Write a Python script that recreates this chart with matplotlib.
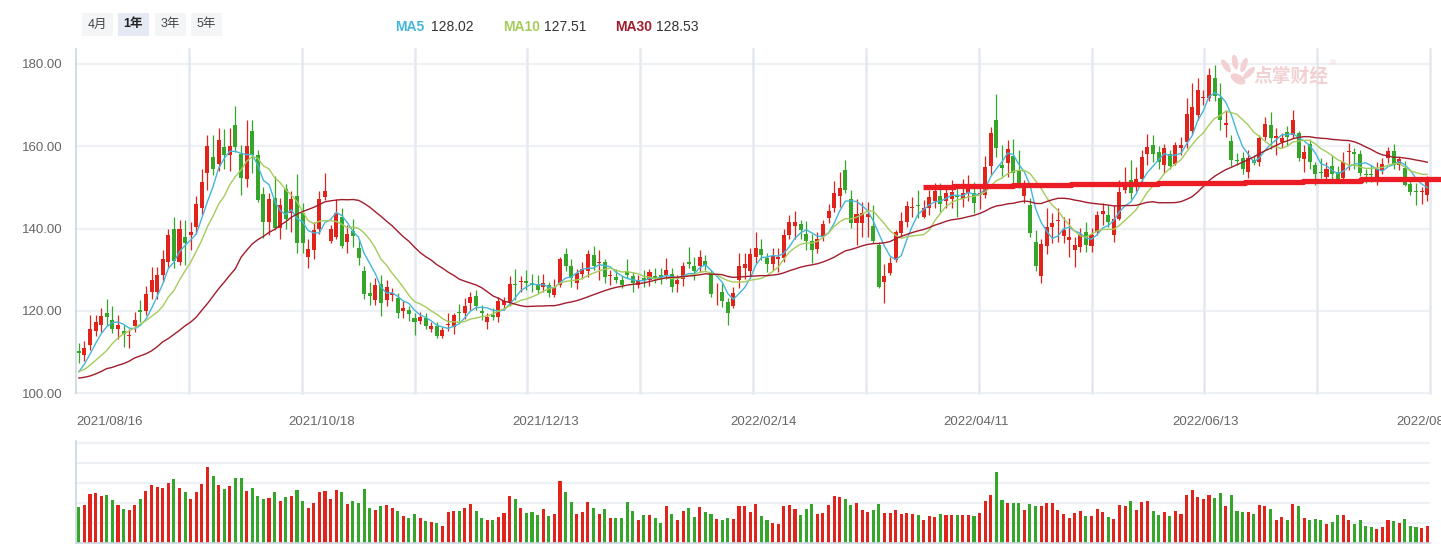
import matplotlib.pyplot as plt
from matplotlib.patches import Rectangle, Ellipse
import numpy as np
import pandas as pd

plt.rcParams['font.family'] = ['Liberation Sans', 'Noto Sans CJK SC', 'DejaVu Sans']

# daily candles, 2021/08/16 .. 2022/08/15
opens = [
    110.3, 109.2, 111.7, 115.1, 116.7, 119.6, 117.9, 115.6, 115.1, 114.0,
    116.4, 120.3, 120.0, 124.6, 124.5, 128.7, 131.9, 139.8, 131.9, 138.0,
    138.5, 140.4, 144.9, 153.5, 157.4, 155.6, 159.8, 157.8, 165.1, 158.2,
    152.0, 163.6, 157.8, 148.3, 141.6, 147.5, 140.2, 149.6, 143.9, 147.9,
    143.9, 133.1, 134.9, 139.8, 147.7, 136.9, 138.0, 142.8, 136.8, 139.4,
    135.2, 129.7, 124.3, 122.7, 126.5, 122.7, 123.9, 123.1, 119.9, 120.2,
    118.2, 117.6, 118.4, 115.7, 116.4, 113.8, 116.7, 116.2, 119.7, 119.4,
    122.0, 123.6, 120.0, 117.2, 119.0, 118.5, 121.4, 121.9, 126.6, 127.1,
    127.3, 126.7, 126.6, 125.7, 126.3, 123.9, 126.3, 133.8, 130.9, 126.7,
    129.0, 129.8, 133.6, 131.6, 132.0, 128.4, 128.2, 127.5, 129.7, 128.5,
    126.3, 128.1, 127.5, 128.5, 128.7, 128.7, 128.9, 126.5, 127.7, 132.0,
    130.8, 130.8, 132.2, 129.3, 124.0, 124.5, 122.1, 121.3, 127.4, 130.4,
    129.7, 133.2, 135.0, 132.8, 131.4, 132.7, 132.8, 138.5, 140.6, 141.1,
    138.7, 137.0, 135.0, 138.2, 142.5, 144.9, 147.9, 154.2, 147.1, 141.3,
    141.3, 142.9, 140.6, 136.0, 127.1, 129.3, 132.4, 139.0, 141.7, 145.0,
    145.7, 142.9, 144.9, 146.8, 148.0, 146.6, 147.2, 148.2, 147.1, 148.6,
    148.7, 148.2, 148.2, 155.1, 166.5, 155.5, 155.9, 157.6, 154.1, 147.9,
    145.7, 136.7, 128.6, 135.9, 140.5, 141.9, 138.3, 137.2, 134.8, 135.6,
    139.1, 135.9, 139.3, 143.6, 143.3, 138.5, 142.3, 149.4, 151.8, 150.4,
    152.0, 158.1, 160.3, 158.5, 155.5, 158.1, 155.6, 159.7, 161.0, 163.6,
    167.6, 171.7, 171.7, 176.5, 171.8, 165.2, 161.3, 156.5, 157.1, 153.8,
    156.7, 156.1, 162.3, 165.2, 162.0, 161.0, 163.5, 162.8, 163.2, 156.9,
    160.5, 155.5, 153.8, 152.6, 155.1, 153.8, 152.2, 158.5, 158.5, 158.1,
    153.3, 153.3, 152.6, 154.2, 157.1, 158.9, 155.5, 154.8, 150.8, 149.1,
    148.9, 148.2]
highs = [
    112.3, 112.8, 119.1, 119.1, 120.7, 122.8, 121.2, 119.1, 116.5, 115.7,
    119.8, 122.6, 126.0, 130.7, 130.7, 134.7, 140.0, 142.8, 142.0, 142.0,
    141.5, 147.9, 154.6, 162.8, 162.7, 164.5, 164.3, 164.5, 169.7, 160.2,
    166.3, 166.3, 159.0, 150.1, 148.7, 152.8, 147.4, 150.9, 149.1, 153.3,
    146.2, 137.6, 141.6, 149.1, 153.4, 140.8, 147.3, 144.9, 141.0, 142.3,
    137.4, 130.9, 127.1, 128.0, 128.7, 127.4, 125.5, 124.3, 122.3, 121.2,
    119.6, 119.8, 119.4, 117.2, 117.2, 116.0, 119.6, 119.6, 121.7, 123.2,
    124.7, 125.1, 121.4, 119.6, 120.6, 123.5, 123.5, 128.5, 130.1, 128.5,
    129.9, 129.0, 128.7, 129.0, 127.1, 127.7, 133.2, 135.2, 132.5, 130.3,
    132.0, 134.9, 135.8, 134.9, 132.5, 129.9, 130.1, 128.5, 132.6, 129.5,
    128.7, 130.0, 130.1, 130.4, 130.5, 132.9, 130.4, 128.7, 132.0, 135.5,
    133.0, 134.8, 133.6, 130.0, 126.7, 126.7, 123.1, 125.9, 134.2, 134.2,
    135.2, 139.3, 137.4, 134.0, 135.2, 135.2, 139.8, 143.3, 144.3, 142.1,
    141.8, 138.7, 139.3, 142.1, 146.1, 151.6, 153.7, 156.7, 149.3, 147.1,
    146.4, 146.4, 145.7, 136.8, 131.5, 133.2, 139.7, 144.1, 146.6, 147.8,
    149.4, 147.0, 149.4, 151.2, 151.0, 149.8, 151.8, 150.6, 152.0, 153.0,
    151.4, 150.4, 157.6, 164.8, 172.7, 160.3, 161.5, 161.7, 159.1, 151.8,
    147.4, 139.7, 137.6, 144.9, 143.9, 144.9, 142.9, 142.5, 138.0, 140.1,
    141.7, 140.1, 144.4, 146.3, 145.7, 145.7, 151.8, 154.9, 156.7, 154.9,
    159.1, 163.0, 162.8, 160.0, 160.5, 159.1, 161.0, 162.3, 171.7, 175.3,
    176.5, 173.7, 178.9, 179.7, 175.3, 168.8, 162.8, 158.3, 158.7, 159.1,
    157.9, 162.8, 167.0, 168.4, 164.4, 163.2, 165.0, 168.8, 163.6, 160.3,
    161.5, 156.3, 157.1, 156.3, 157.9, 155.1, 158.7, 160.7, 159.5, 159.1,
    154.6, 155.5, 156.3, 157.1, 159.9, 160.5, 157.5, 156.4, 152.2, 151.0,
    150.2, 152.9]
lows = [
    107.4, 107.9, 110.4, 113.9, 114.9, 116.5, 114.7, 113.3, 111.2, 111.0,
    114.9, 117.2, 119.0, 123.0, 123.0, 127.0, 130.7, 130.4, 131.1, 131.1,
    134.7, 138.8, 143.2, 149.3, 153.0, 154.0, 154.6, 154.0, 158.6, 148.1,
    150.1, 153.4, 146.5, 137.7, 138.5, 139.6, 137.6, 140.0, 139.2, 134.0,
    134.0, 130.4, 132.6, 138.8, 146.9, 136.4, 137.6, 135.2, 134.0, 135.6,
    131.2, 122.8, 121.4, 121.4, 118.8, 121.2, 122.3, 118.2, 118.2, 117.6,
    114.2, 116.8, 115.5, 115.0, 113.4, 113.4, 115.1, 114.3, 117.6, 118.0,
    120.2, 120.2, 117.8, 115.6, 117.8, 117.4, 120.2, 121.2, 122.7, 124.7,
    125.1, 124.7, 124.3, 124.7, 123.5, 123.5, 125.7, 129.8, 125.7, 125.3,
    127.7, 128.2, 129.9, 127.5, 126.7, 126.3, 126.7, 125.5, 127.9, 124.7,
    125.5, 125.9, 126.1, 126.7, 126.6, 127.7, 124.7, 124.7, 126.1, 130.4,
    127.4, 129.5, 130.0, 123.5, 121.4, 121.0, 116.7, 120.6, 125.5, 127.7,
    128.3, 131.6, 132.4, 129.5, 130.0, 129.5, 132.0, 137.4, 137.6, 137.4,
    134.7, 131.7, 134.2, 137.1, 141.3, 144.1, 145.3, 148.6, 140.1, 136.0,
    137.9, 138.0, 136.4, 125.5, 121.9, 128.7, 132.0, 138.0, 140.5, 142.9,
    142.5, 142.5, 143.3, 144.9, 144.1, 145.1, 144.9, 142.9, 145.3, 146.8,
    143.9, 144.7, 147.4, 153.0, 157.5, 152.8, 152.6, 151.0, 149.8, 146.3,
    138.0, 129.6, 126.7, 133.8, 136.4, 136.8, 136.4, 133.2, 130.6, 134.4,
    134.4, 134.4, 138.5, 140.9, 140.5, 136.8, 142.1, 148.7, 147.1, 149.2,
    151.0, 155.5, 156.3, 154.5, 153.4, 154.6, 155.5, 157.9, 159.5, 162.8,
    166.4, 170.0, 170.9, 170.9, 164.0, 162.3, 155.1, 155.5, 153.2, 152.2,
    155.5, 155.1, 161.5, 159.3, 158.0, 159.7, 160.0, 161.9, 156.4, 153.8,
    154.6, 150.6, 152.2, 151.8, 151.8, 151.4, 151.6, 154.2, 154.6, 152.9,
    151.0, 151.4, 150.6, 153.2, 155.9, 154.6, 154.2, 150.4, 148.2, 145.7,
    145.9, 146.6]
closes = [
    109.8, 110.9, 115.7, 117.2, 118.7, 118.5, 115.7, 116.5, 114.4, 114.1,
    117.7, 119.7, 124.2, 127.4, 128.7, 132.7, 138.5, 132.1, 140.0, 136.4,
    139.1, 146.1, 151.3, 160.0, 154.6, 161.6, 157.8, 160.0, 159.8, 152.3,
    160.0, 157.8, 146.9, 141.5, 147.3, 140.2, 145.8, 142.4, 147.3, 136.4,
    136.4, 135.1, 139.6, 147.3, 149.1, 139.8, 143.9, 135.8, 138.7, 138.3,
    132.9, 124.1, 123.7, 126.3, 122.0, 125.7, 124.3, 119.4, 120.6, 119.2,
    117.4, 118.6, 116.4, 116.4, 113.8, 115.4, 116.8, 119.0, 119.4, 121.2,
    123.3, 121.2, 119.4, 118.6, 118.5, 122.3, 122.3, 126.6, 126.2, 127.3,
    126.7, 126.3, 125.1, 126.7, 124.3, 125.7, 132.5, 130.8, 127.9, 129.3,
    130.1, 133.8, 130.9, 132.0, 128.3, 128.6, 127.5, 126.3, 128.7, 126.7,
    127.5, 127.5, 129.4, 128.1, 128.3, 130.0, 125.9, 127.5, 130.8, 131.3,
    129.7, 133.2, 131.2, 124.0, 124.2, 122.3, 119.4, 124.3, 130.9, 131.4,
    133.8, 135.2, 133.6, 131.4, 133.3, 133.2, 138.5, 141.7, 141.7, 139.7,
    137.1, 134.7, 137.6, 141.1, 144.3, 148.7, 149.8, 149.5, 141.3, 143.6,
    143.7, 143.6, 137.1, 125.7, 128.5, 131.7, 139.3, 141.9, 145.5, 145.2,
    145.5, 145.1, 147.6, 149.2, 146.0, 148.7, 149.0, 147.6, 148.6, 150.2,
    146.3, 148.6, 154.9, 163.3, 159.5, 154.7, 159.3, 153.4, 151.2, 150.2,
    139.0, 130.8, 136.3, 140.5, 141.4, 142.0, 139.7, 138.0, 136.0, 138.7,
    136.0, 138.5, 143.3, 144.3, 141.7, 142.3, 149.0, 150.4, 148.7, 152.0,
    157.3, 159.9, 158.1, 156.3, 159.5, 155.1, 160.3, 160.2, 167.8, 169.6,
    173.7, 171.9, 177.3, 172.3, 166.4, 165.6, 156.7, 156.4, 154.6, 157.2,
    155.9, 161.9, 165.3, 162.1, 162.5, 162.1, 162.2, 166.5, 157.1, 158.7,
    156.3, 153.2, 153.6, 154.5, 153.2, 152.1, 156.3, 158.9, 158.1, 153.4,
    153.1, 153.1, 154.6, 155.6, 158.9, 155.5, 156.9, 150.6, 148.8, 148.9,
    149.1, 152.6]
# volume in units of the volume grid spacing (no axis labels in the original)
volumes = [
    1.82, 1.92, 2.47, 2.52, 2.37, 2.42, 2.17, 1.92, 1.72, 1.67,
    1.92, 2.22, 2.62, 2.92, 2.82, 2.77, 3.02, 3.22, 2.77, 2.57,
    2.22, 2.57, 2.97, 3.82, 3.37, 2.92, 2.72, 2.87, 3.27, 3.27,
    2.62, 2.77, 2.37, 2.22, 2.27, 2.57, 2.12, 2.32, 2.37, 2.67,
    2.12, 1.77, 2.02, 2.57, 2.62, 2.22, 2.67, 2.57, 1.97, 2.12,
    2.02, 2.72, 1.77, 1.67, 1.87, 1.92, 1.77, 1.62, 1.37, 1.27,
    1.47, 1.27, 1.12, 1.07, 1.02, 0.87, 1.57, 1.62, 1.62, 1.77,
    1.97, 1.62, 1.27, 1.17, 1.17, 1.32, 1.52, 2.37, 2.22, 1.77,
    1.52, 1.57, 1.42, 1.72, 1.37, 1.47, 3.12, 2.57, 2.07, 1.47,
    1.57, 2.07, 1.77, 1.47, 1.72, 1.27, 1.27, 1.27, 2.07, 1.62,
    1.17, 1.42, 1.42, 1.27, 1.02, 1.87, 1.47, 1.17, 1.62, 1.77,
    1.32, 1.82, 1.57, 1.47, 1.22, 1.17, 1.27, 1.22, 1.87, 1.87,
    1.57, 1.97, 1.37, 1.17, 1.02, 0.97, 1.87, 1.92, 1.72, 1.42,
    1.72, 1.97, 1.47, 1.52, 1.92, 2.37, 2.32, 2.22, 1.92, 2.02,
    1.67, 1.57, 1.67, 1.97, 1.52, 1.52, 1.67, 1.47, 1.52, 1.47,
    1.42, 1.17, 1.37, 1.32, 1.47, 1.42, 1.42, 1.42, 1.42, 1.42,
    1.37, 1.52, 2.12, 2.42, 3.57, 2.17, 2.02, 2.02, 2.02, 1.67,
    1.97, 1.87, 1.87, 2.02, 2.02, 1.67, 1.47, 1.27, 1.52, 1.62,
    1.37, 1.37, 1.72, 1.57, 1.32, 1.22, 1.92, 1.87, 2.12, 1.67,
    2.07, 2.12, 1.62, 1.42, 1.57, 1.37, 1.62, 1.47, 2.42, 2.67,
    2.32, 2.22, 2.42, 2.27, 2.52, 1.87, 2.42, 1.62, 1.57, 1.57,
    1.47, 1.92, 1.87, 1.72, 1.17, 1.32, 1.17, 1.97, 1.87, 1.27,
    1.17, 1.22, 1.17, 0.97, 1.07, 1.42, 1.42, 1.17, 0.97, 1.17,
    0.87, 0.82, 0.72, 0.82, 1.17, 1.12, 1.02, 1.22, 0.87, 0.82,
    0.77, 0.87]

# moving averages need history before the first candle
ma5_head = [105.2, 107.1, 109.5, 112.1]
ma10_head = [105.3, 105.8, 106.8, 108.0, 109.2, 110.4, 112.1, 113.4, 114.5]
ma30_head = [103.7, 103.9, 104.2, 104.7, 105.3, 106.0, 106.3, 106.8, 107.2, 107.8,
             108.6, 109.1, 109.6, 110.3, 111.3, 112.5, 113.3, 114.3, 115.3, 116.4,
             117.3, 118.5, 120.2, 121.8, 123.6, 125.4, 127.0, 128.7, 130.3]

date_idx = [0, 38, 78, 117, 155, 196, 236]
date_labels = ['2021/08/16', '2021/10/18', '2021/12/13', '2022/02/14',
               '2022/04/11', '2022/06/13', '2022/08/08']
price_ticks = [100, 120, 140, 160, 180]

# hand drawn support line (x in candle index, stepped)
mark_x = [150.9, 156.4, 167.0, 177.3, 192.9, 208.4, 218.8, 229.2, 243.5]
mark_y = [150.0, 150.35, 150.5, 150.8, 151.2, 151.4, 151.6, 152.0, 152.0]

legend_names = ['MA5', 'MA10', 'MA30']
legend_values = ['128.02', '127.51', '128.53']
periods = ['4月', '1年', '3年', '5年']

UP = '#e0231b'
DOWN = '#35a62a'
MA_COLORS = ['#44b6dc', '#a5cc5b', '#a21d2c']
GRID = '#edf0f5'
VGRID = '#e4e9f0'
SPINE = '#ccd5e1'
PINK = '#f3d0d2'

W, H = 1441, 546
fig = plt.figure(figsize=(W / 100, H / 100), dpi=100)
fig.patch.set_facecolor('white')

def px(x0, y0, x1, y1):
    return [x0 / W, 1 - y1 / H, (x1 - x0) / W, (y1 - y0) / H]

n = len(closes)
x = np.arange(n)
o = np.array(opens)
c = np.array(closes)
colors = np.where(c >= o, UP, DOWN)

ax = fig.add_axes(px(76, 49, 1430, 393.3))
ax.set_xlim(-0.5, n - 0.5)
ax.set_ylim(100, 183.63)
for s in ['top', 'right', 'bottom']:
    ax.spines[s].set_visible(False)
ax.spines['left'].set_color(SPINE)
ax.spines['left'].set_linewidth(1.2)
for v in price_ticks:
    ax.axhline(v, color=GRID, lw=1.6, zorder=0, clip_on=False)
for k in range(1, 13):
    ax.axvline(-0.5 + n * k / 12, color=VGRID, lw=1.8, zorder=0, clip_on=False)

ax.vlines(x, lows, highs, colors=colors, lw=0.9, zorder=2)
body_low = np.minimum(o, c)
body_h = np.maximum(np.abs(c - o), 0.22)
ax.bar(x, body_h, bottom=body_low, width=0.72, color=colors, lw=0, zorder=3)

cs = pd.Series(closes)
heads = [ma5_head, ma10_head, ma30_head]
for win, head, col in zip([5, 10, 30], heads, MA_COLORS):
    ma = cs.rolling(win).mean().to_numpy()
    ma[:len(head)] = head
    ax.plot(x, ma, color=col, lw=1.0, zorder=4)

ax.plot(mark_x, mark_y, drawstyle='steps-post', color='#ec1c24', lw=3.8,
        solid_capstyle='butt', zorder=5, clip_on=False)

ax.set_yticks(price_ticks)
ax.set_yticklabels([f'{v:.2f}' for v in price_ticks])
ax.set_xticks(np.array(date_idx) - 0.5)
ax.set_xticklabels(date_labels, ha='left')
ax.tick_params(axis='y', length=0, pad=10, labelsize=9.5, labelcolor='#666666')
ax.tick_params(axis='x', length=0, pad=16, labelsize=9.5, labelcolor='#666666')

# volume panel
vax = fig.add_axes(px(76, 441, 1430, 543))
vax.set_xlim(-0.5, n - 0.5)
vax.set_ylim(0, 5.1)
for s in ['top', 'right']:
    vax.spines[s].set_visible(False)
for s in ['left', 'bottom']:
    vax.spines[s].set_color(SPINE)
    vax.spines[s].set_linewidth(1.2)
for v in range(1, 6):
    vax.axhline(v, color=GRID, lw=1.6, zorder=0)
vax.bar(x, volumes, width=0.55, color=colors, lw=0, zorder=2)
vax.set_xticks([])
vax.set_yticks([])

# period buttons
for lab, x0 in zip(periods, [82, 118, 155, 191]):
    sel = lab == '1年'
    fig.add_artist(Rectangle((x0 / W, 1 - 36 / H), 31 / W, 23 / H,
                             transform=fig.transFigure,
                             facecolor='#e4e9f3' if sel else '#f4f5f7', lw=0))
    fig.text((x0 + 15.5) / W, 1 - 24.5 / H, lab, ha='center', va='center',
             fontsize=9, color='#222222' if sel else '#444444',
             fontweight='bold' if sel else 'normal')

# MA legend
for name, val, col, x0, x1 in zip(legend_names, legend_values, MA_COLORS,
                                  [395, 503, 615], [431, 544, 656]):
    fig.text(x0 / W, 1 - 27 / H, name, ha='left', va='center', fontsize=10,
             color=col, fontweight='bold')
    fig.text(x1 / W, 1 - 27 / H, val, ha='left', va='center',
             fontsize=10, color='#333333')

# watermark: hand logo + name
for cx, cy, ang in [(1226, 66, 35), (1235, 62, 10), (1244, 65, -20)]:
    fig.add_artist(Ellipse((cx, H - cy), 6, 15, angle=ang, transform=None,
                           facecolor=PINK, lw=0))
fig.add_artist(Ellipse((1238, H - 79), 16, 9, angle=-30, transform=None,
                       facecolor=PINK, lw=0))
fig.add_artist(Ellipse((1249, H - 73), 6, 16, angle=-45, transform=None,
                       facecolor=PINK, lw=0))
fig.text(1253 / W, 1 - 76 / H, '点掌财经', ha='left', va='center', fontsize=13.5,
         color=PINK, fontweight='bold', family=['Noto Sans CJK SC'])
fig.text(1330 / W, 1 - 64 / H, '®', ha='left', va='center', fontsize=6, color=PINK)

fig.savefig('out.png', dpi=100, facecolor='white')
